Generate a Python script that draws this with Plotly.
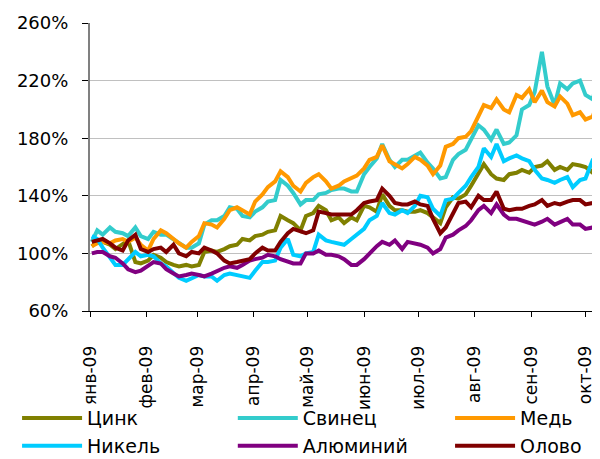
import plotly.graph_objects as go
import pandas as pd

# даты наблюдений (пн/чт), 2009
dates = (
    [pd.Timestamp("2009-01-02")]
    + sorted(
        list(pd.date_range("2009-01-05", "2009-10-05", freq="W-MON"))
        + list(pd.date_range("2009-01-08", "2009-10-08", freq="W-THU"))
    )
)

month_ticks = ["2009-01-01", "2009-02-01", "2009-03-01", "2009-04-01", "2009-05-01",
               "2009-06-01", "2009-07-01", "2009-08-01", "2009-09-01", "2009-10-01"]
month_labels = ["янв-09", "фев-09", "мар-09", "апр-09", "май-09",
                "июн-09", "июл-09", "авг-09", "сен-09", "окт-09"]

zinc = [105, 108, 108, 106, 103, 106, 109, 94, 93, 95, 99, 97, 94, 92, 91, 92, 91, 92, 101, 102,
        101, 103, 105, 106, 110, 109, 112, 113, 115, 116, 126, 123, 121, 116, 126, 128, 133, 130, 123, 125,
        121, 125, 123, 133, 132, 129, 141, 133, 130, 130, 129, 129, 130, 128, 125, 121, 132, 139, 138, 141,
        147, 156, 162, 155, 152, 151, 155, 156, 158, 156, 160, 161, 164, 158, 160, 158, 162, 161, 160, 156, 173]

lead = [108, 116, 113, 118, 115, 114, 112, 118, 112, 110, 115, 113, 113, 110, 107, 104, 104, 107, 120, 123,
        123, 126, 132, 131, 126, 125, 129, 132, 136, 137, 151, 147, 142, 134, 137, 137, 141, 142, 144, 145,
        145, 143, 143, 155, 160, 166, 176, 165, 160, 165, 165, 168, 170, 163, 159, 152, 153, 165, 169, 172,
        179, 189, 186, 179, 186, 176, 177, 182, 200, 203, 212, 240, 216, 203, 218, 214, 218, 220, 210, 207, 222]

copper = [105, 107, 108, 107, 109, 110, 108, 111, 106, 102, 110, 116, 114, 110, 107, 104, 108, 112, 121, 120,
          118, 124, 130, 132, 130, 127, 136, 141, 146, 150, 157, 153, 147, 143, 149, 153, 155, 150, 145, 147,
          150, 152, 154, 159, 165, 167, 175, 164, 162, 159, 162, 167, 165, 161, 155, 161, 174, 176, 180, 181,
          185, 195, 203, 201, 207, 200, 198, 210, 208, 214, 205, 213, 205, 202, 209, 204, 196, 198, 193, 195, 206]

nickel = [112, 110, 104, 97, 92, 92, 96, 101, 98, 99, 98, 93, 91, 86, 83, 81, 83, 85, 84, 84,
          81, 85, 86, 85, 84, 83, 88, 94, 94, 95, 104, 110, 99, 98, 100, 101, 113, 109, 108, 107,
          106, 110, 113, 117, 123, 126, 135, 128, 127, 130, 128, 133, 140, 139, 131, 126, 137, 138, 142, 147,
          153, 160, 173, 167, 176, 164, 166, 168, 166, 164, 158, 152, 151, 149, 151, 153, 146, 151, 152, 165, 167]

aluminium = [100, 101, 101, 98, 97, 93, 89, 87, 88, 91, 94, 93, 89, 86, 84, 85, 86, 85, 84, 86,
             88, 90, 91, 90, 92, 95, 96, 97, 99, 98, 96, 94, 93, 93, 100, 100, 102, 99, 99, 98,
             96, 92, 92, 96, 100, 105, 108, 106, 109, 103, 108, 107, 106, 104, 100, 103, 111, 113, 116, 119,
             123, 130, 133, 128, 134, 127, 124, 124, 123, 121, 120, 122, 124, 120, 122, 124, 120, 120, 117, 118, 124]

tin = [108, 109, 110, 107, 104, 102, 109, 113, 103, 101, 103, 104, 101, 106, 100, 98, 101, 100, 104, 102,
       100, 95, 93, 94, 95, 96, 100, 104, 102, 102, 108, 114, 117, 115, 114, 116, 129, 128, 127, 127,
       127, 127, 130, 135, 136, 137, 145, 140, 135, 134, 134, 136, 134, 133, 124, 114, 118, 127, 135, 136,
       132, 140, 137, 137, 143, 131, 130, 131, 131, 133, 134, 137, 133, 135, 134, 136, 137, 137, 134, 135, 139]

# (имя, значения, цвет, колонка легенды)
series = [
    ("Цинк", zinc, "#808000", "legend"),
    ("Свинец", lead, "#33CCCC", "legend2"),
    ("Медь", copper, "#FF9900", "legend3"),
    ("Никель", nickel, "#00CCFF", "legend"),
    ("Алюминий", aluminium, "#800080", "legend2"),
    ("Олово", tin, "#800000", "legend3"),
]

fig = go.Figure()
for name, values, color, leg in series:
    fig.add_trace(go.Scatter(
        x=dates, y=values, name=name, mode="lines",
        line=dict(color=color, width=4),
        legend=leg, legendgroup=name,
    ))

font = "DejaVu Sans, Verdana, sans-serif"


def legend_column(x):
    return dict(
        orientation="v",
        x=x, xanchor="left",
        y=-0.306, yanchor="top",
        font=dict(size=19, family=font, color="#000000"),
        tracegroupgap=0,
        itemwidth=60,
        bgcolor="rgba(0,0,0,0)",
        borderwidth=0,
    )


# страница браузера сдвигает график на 8px (отступ body), поэтому размер уменьшен
fig.update_layout(
    width=592, height=451,
    margin=dict(l=82, r=0, t=15, b=148, autoexpand=False),
    paper_bgcolor="white", plot_bgcolor="white",
    font=dict(family=font, color="#000000"),
    showlegend=True,
    legend=legend_column(-0.143),
    legend2=legend_column(0.28),
    legend3=legend_column(0.706),
    xaxis=dict(
        type="date",
        range=["2009-01-01", "2009-10-09"],
        tickvals=month_ticks, ticktext=month_labels,
        tickangle=-90,
        tickfont=dict(size=17, family=font),
        ticks="outside", ticklen=5, tickcolor="#000000",
        ticklabelstandoff=22,
        showline=True, linecolor="#000000", linewidth=1,
        showgrid=False, zeroline=False,
        automargin=False,
    ),
    yaxis=dict(
        range=[60, 260], dtick=40, tick0=60,
        ticksuffix="%",
        tickfont=dict(size=18, family=font),
        ticks="outside", ticklen=6, tickcolor="#000000",
        ticklabelstandoff=10,
        showline=True, linecolor="#808080", linewidth=2,
        showgrid=True, gridcolor="#C0C0C0", gridwidth=1,
        zeroline=False,
        automargin=False,
    ),
)

fig.write_html("out.html")
